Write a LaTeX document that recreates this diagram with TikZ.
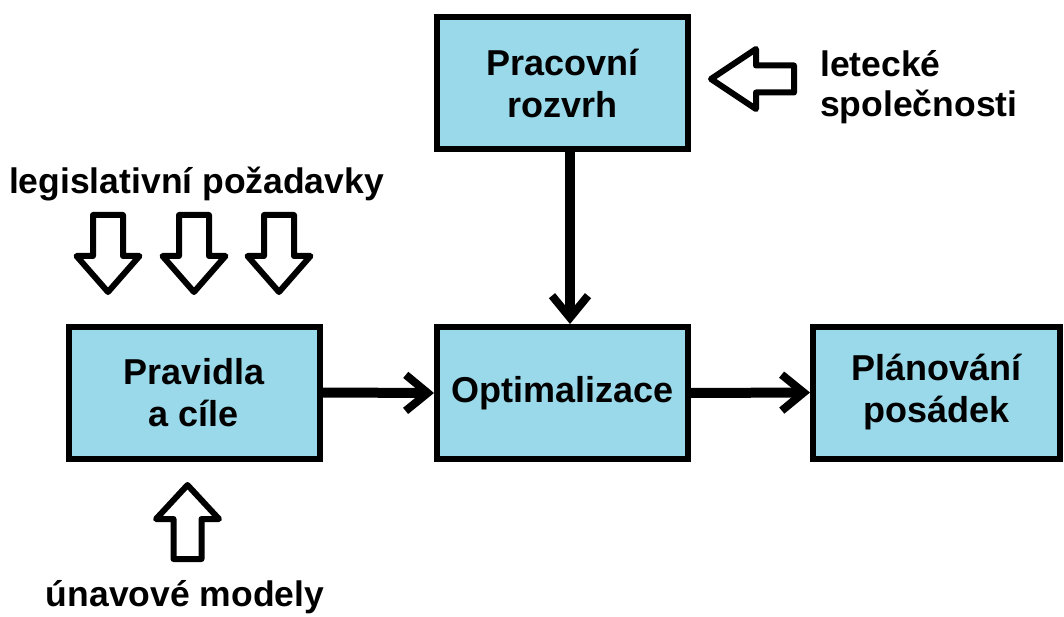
\documentclass[tikz,border=0pt]{standalone}
\usepackage{fontspec}
\setmainfont{Liberation Sans}
\usetikzlibrary{arrows.meta}
\definecolor{boxfill}{HTML}{99D9EA}
\begin{document}
\begin{tikzpicture}[x=1pt,y=-1pt,
  blockbox/.style={draw=black, line width=6pt, fill=boxfill,
    minimum width=251pt, minimum height=132pt, inner sep=0pt,
    align=center, font=\bfseries\fontsize{36pt}{42pt}\selectfont},
  lbltext/.style={inner sep=0pt, font=\bfseries\fontsize{35.5pt}{40pt}\selectfont},
  flow/.style={line width=10pt,
    -{Straight Barb[length=22pt,width=36pt,line width=8pt]}},
  hollow/.style={draw=black, fill=white, line width=6pt, line join=round}
]
\useasboundingbox (0,0) rectangle (1064,617);

% process boxes
\node[blockbox] (plan)  at (562.5,83)  {Pracovní\\rozvrh};
\node[blockbox] (rules) at (194,392.5) {Pravidla\\a cíle};
\node[blockbox] (opt)   at (562.5,393) {Optimalizace};
\node[blockbox, minimum width=247pt] (crew) at (936.5,392.5) {Plánování\\posádek};

% connectors
\draw[flow] (rules.east) -- (opt.west);
\draw[flow] ([xshift=7.5pt]plan.south) -- ([xshift=7.5pt]opt.north);
\draw[flow] (opt.east) -- (crew.west);

% input labels
\node[lbltext, anchor=base] (legis) at (196.5,194) {legislativní požadavky};
\node[lbltext, anchor=base west] (airl1) at (820,77) {letecké};
\node[lbltext, anchor=base west] (airl2) at (820,117) {společnosti};
\node[lbltext, anchor=base] (fatigue) at (185,606) {únavové modely};

% hollow input arrows pointing down
\foreach \cx in {108,194,279}{
  \draw[hollow] (\cx-15,215) -- (\cx+15,215) -- (\cx+15,256) -- (\cx+31.5,256)
    -- (\cx,292) -- (\cx-31.5,256) -- (\cx-15,256) -- cycle;
}
% hollow arrow pointing up
\draw[hollow] (187.5-14,559) -- (187.5+14,559) -- (187.5+14,519) -- (187.5+31.5,519)
  -- (187.5,485) -- (187.5-31.5,519) -- (187.5-14,519) -- cycle;
% hollow arrow pointing left
\draw[hollow] (794,65.5) -- (794,92.5) -- (756,92.5) -- (756,109)
  -- (711,79) -- (756,49) -- (756,65.5) -- cycle;
\end{tikzpicture}
\end{document}
